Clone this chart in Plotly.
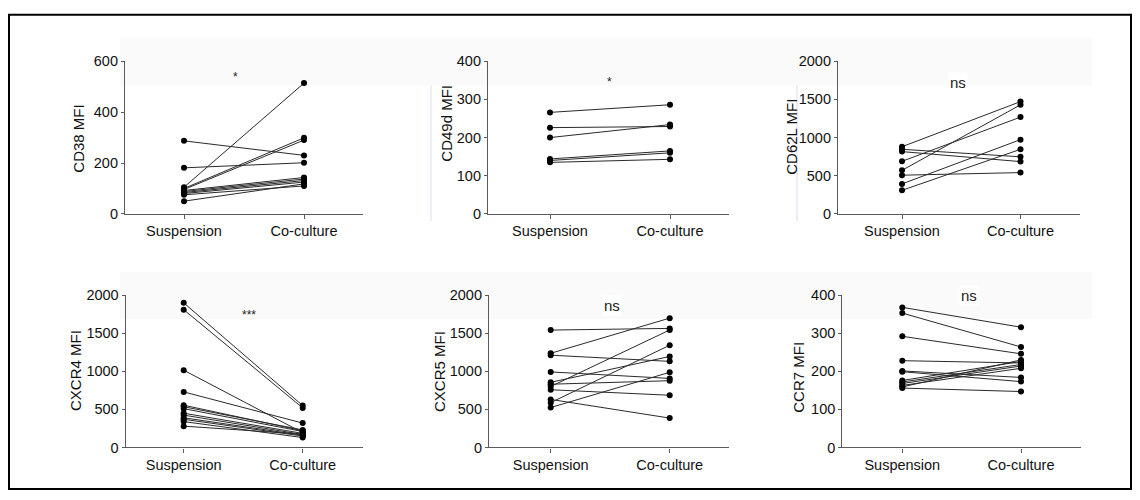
import plotly.graph_objects as go

W, H = 1140, 500

conditions = ["Suspension", "Co-culture"]

# ---- data (MFI values) ----
cd38_susp = [287, 181, 105, 100, 96, 92, 88, 84, 80, 75, 50]
cd38_co = [230, 201, 514, 299, 290, 143, 137, 131, 125, 110, 118]

cd49d_susp = [266, 226, 200, 144, 140, 135]
cd49d_co = [286, 229, 234, 165, 160, 143]

cd62l_susp = [880, 846, 816, 689, 571, 507, 393, 309]
cd62l_co = [1471, 748, 685, 1268, 1429, 541, 973, 846]

cxcr4_susp = [1900, 1810, 1015, 730, 555, 535, 510, 450, 425, 390, 370, 340, 280]
cxcr4_co = [550, 520, 195, 320, 220, 230, 210, 185, 170, 160, 150, 130, 175]

cxcr5_susp = [1542, 1237, 1212, 992, 856, 831, 801, 758, 631, 589, 525]
cxcr5_co = [1564, 1699, 1131, 907, 1195, 877, 1543, 686, 386, 1343, 987]

ccr7_susp = [368, 353, 292, 228, 201, 199, 176, 172, 168, 163, 159, 156]
ccr7_co = [316, 264, 246, 222, 184, 173, 226, 218, 214, 208, 230, 147]

titles = ["CD38 MFI", "CD49d MFI", "CD62L MFI", "CXCR4 MFI", "CXCR5 MFI", "CCR7 MFI"]
y_max = [600, 400, 2000, 2000, 2000, 400]
y_dtick = [200, 100, 500, 500, 500, 100]
significance = ["*", "*", "ns", "***", "ns", "ns"]

series = [
    (cd38_susp, cd38_co),
    (cd49d_susp, cd49d_co),
    (cd62l_susp, cd62l_co),
    (cxcr4_susp, cxcr4_co),
    (cxcr5_susp, cxcr5_co),
    (ccr7_susp, ccr7_co),
]

# ---- layout geometry (pixels) ----
# axis-left, suspension tick, co-culture tick, axis-right, top, bottom
geom = [
    (125, 184, 304, 363, 55, 212.7),
    (488, 550, 670, 729, 55, 212.7),
    (838, 902, 1020.5, 1080, 55, 212.7),
    (125.7, 183.7, 302.7, 363, 296.7, 454),
    (489, 550.7, 669.7, 729, 296.7, 454),
    (842.3, 902.3, 1021, 1080.5, 296.7, 454),
]
title_pos = [(79, 135), (446.5, 119), (791.5, 133.5),
             (75, 375), (440, 376), (799, 382)]
sig_pos = [(235.7, 71), (609, 76), (958, 77), (249, 317.5), (611.7, 307), (969, 297)]

FONT = "Liberation Sans, Arial, sans-serif"
AXC = "#5a5a5a"
TICK_SIZE = 14.5


def px(x):
    return x / W


def py(y):
    return 1 - y / H


fig = go.Figure()
layout = dict(
    width=W, height=H,
    margin=dict(l=0, r=0, t=0, b=0),
    paper_bgcolor="white", plot_bgcolor="rgba(0,0,0,0)",
    showlegend=False,
    font=dict(family=FONT, size=15, color="#111"),
)
annotations = []
shapes = []

# faint background bands and artefact lines
for (y0, y1) in [(31, 80), (273, 321)]:
    shapes.append(dict(type="rect", xref="paper", yref="paper",
                       x0=px(120), x1=px(1092), y0=py(y1), y1=py(y0),
                       fillcolor="#fafafa", line=dict(width=0), layer="below"))
for xl in [431, 797]:
    shapes.append(dict(type="line", xref="paper", yref="paper",
                       x0=px(xl), x1=px(xl), y0=py(220), y1=py(80),
                       line=dict(color="#e6d8ee", width=1), layer="below"))
# outer frame
shapes.append(dict(type="rect", xref="paper", yref="paper",
                   x0=px(9), x1=px(1131), y0=py(497), y1=py(7),
                   line=dict(color="black", width=2), fillcolor="rgba(0,0,0,0)"))

for i, ((s, c), g) in enumerate(zip(series, geom)):
    ax_l, xs, xc, ax_r, top, bot = g
    step = xc - xs
    r0 = (ax_l - xs) / step
    r1 = (ax_r - xs) / step
    k = "" if i == 0 else str(i + 1)
    xa, ya = "x" + k, "y" + k
    for a, b in zip(s, c):
        fig.add_trace(go.Scatter(
            x=[0, 1], y=[a, b], mode="lines+markers", xaxis=xa, yaxis=ya,
            line=dict(color="#2a2a2a", width=1),
            marker=dict(color="black", size=6),
            hoverinfo="skip"))
    layout["xaxis" + k] = dict(
        domain=[px(ax_l), px(ax_r)], range=[r0, r1], anchor=ya,
        tickvals=[0, 1], ticktext=conditions, ticks="outside", ticklen=4,
        tickcolor=AXC, showline=True, linecolor=AXC, linewidth=1.2,
        showgrid=False, zeroline=False, fixedrange=True,
        tickfont=dict(size=TICK_SIZE, color="#111"))
    layout["yaxis" + k] = dict(
        domain=[py(bot), py(top)], range=[0, y_max[i]], anchor=xa,
        dtick=y_dtick[i], tick0=0, ticks="outside", ticklen=3,
        tickcolor=AXC, showline=True, linecolor=AXC, linewidth=1.2,
        showgrid=False, zeroline=False, fixedrange=True,
        tickfont=dict(size=TICK_SIZE, color="#111"))
    tx, ty = title_pos[i]
    annotations.append(dict(xref="paper", yref="paper", x=px(tx), y=py(ty),
                            text=titles[i], textangle=-90, showarrow=False,
                            font=dict(size=15, color="#111"),
                            xanchor="center", yanchor="middle"))
    sx, sy = sig_pos[i]
    is_ns = significance[i] == "ns"
    annotations.append(dict(xref="paper", yref="paper", x=px(sx), y=py(sy),
                            text=significance[i], showarrow=False,
                            font=dict(size=15 if is_ns else 12, color="#222"),
                            bgcolor="white" if is_ns else None,
                            xanchor="center", yanchor="middle"))

layout["annotations"] = annotations
layout["shapes"] = shapes
fig.update_layout(**layout)
fig.write_html("out.html")
